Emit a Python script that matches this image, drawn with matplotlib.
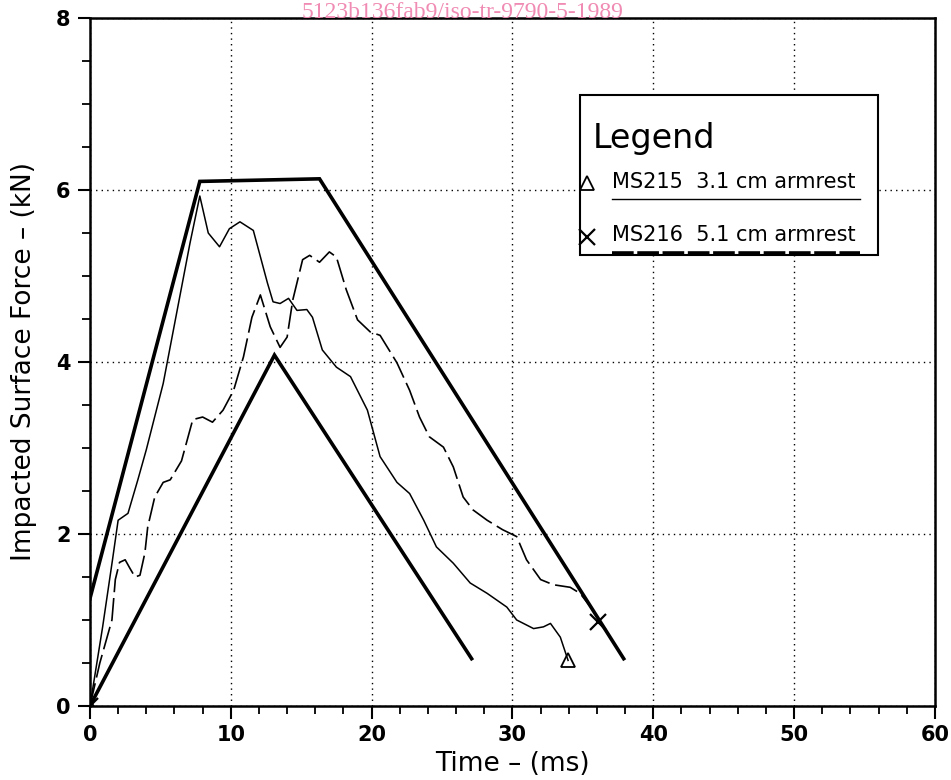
import numpy as np
import matplotlib
matplotlib.use("Agg")
import matplotlib.pyplot as plt
from matplotlib.patches import Rectangle

# corridor bounds (thick lines)
upper_t = [0.0, 7.8, 16.3, 37.9]
upper_f = [1.25, 6.1, 6.13, 0.55]
lower_t = [0.0, 13.1, 27.1]
lower_f = [0.0, 4.08, 0.55]

# MS215 3.1 cm armrest (thin solid)
ms215_t = [0.0, 0.9, 1.6, 2.0, 2.7, 3.4, 4.0, 5.2, 7.1, 7.8, 8.4, 9.2, 9.9, 10.65,
           11.6, 12.6, 13.0, 13.5, 14.1, 14.7, 15.4, 15.8, 16.5, 17.5, 18.5, 19.7,
           20.6, 21.8, 22.7, 23.7, 24.6, 25.8, 27.0, 28.2, 29.6, 30.3, 31.5, 32.2,
           32.7, 33.4, 33.95]
ms215_f = [0.0, 0.92, 1.7, 2.16, 2.24, 2.63, 2.98, 3.75, 5.38, 5.93, 5.5, 5.34, 5.55, 5.63,
           5.53, 4.92, 4.70, 4.68, 4.74, 4.60, 4.61, 4.52, 4.14, 3.94, 3.83, 3.44,
           2.9, 2.6, 2.47, 2.16, 1.85, 1.66, 1.43, 1.31, 1.15, 1.0, 0.9, 0.92,
           0.96, 0.8, 0.53]

# MS216 5.1 cm armrest (dashed)
ms216_t = [0.0, 0.7, 1.56, 1.8, 2.1, 2.5, 2.84, 3.2, 3.55, 3.9, 4.1, 4.6, 5.2, 5.7,
           6.5, 7.3, 8.0, 8.7, 9.45, 10.2, 10.9, 11.5, 12.1, 12.8, 13.5, 14.0, 14.4,
           15.1, 15.6, 16.3, 17.0, 17.5, 18.2, 19.0, 19.9, 20.6, 21.8, 22.7, 23.4,
           24.1, 25.1, 25.8, 26.5, 27.2, 28.2, 29.3, 30.3, 31.0, 32.0, 32.9, 34.1,
           34.8, 35.7, 36.1]
ms216_f = [0.0, 0.5, 1.0, 1.47, 1.67, 1.7, 1.6, 1.5, 1.52, 1.78, 2.08, 2.43, 2.6, 2.63,
           2.85, 3.33, 3.36, 3.30, 3.44, 3.67, 4.06, 4.52, 4.78, 4.41, 4.17, 4.29, 4.72,
           5.19, 5.24, 5.16, 5.28, 5.22, 4.84, 4.49, 4.35, 4.31, 3.99, 3.67, 3.36,
           3.13, 3.01, 2.78, 2.43, 2.28, 2.16, 2.05, 1.97, 1.70, 1.47, 1.41, 1.38,
           1.31, 1.12, 0.98]

labels = ["MS215  3.1 cm armrest", "MS216  5.1 cm armrest"]

fig = plt.figure(figsize=(9.51, 7.80), dpi=100)
ax = fig.add_axes([0.0946, 0.0949, 0.8885, 0.882])

ax.plot(upper_t, upper_f, color='black', lw=2.6, solid_joinstyle='miter', zorder=3)
ax.plot(lower_t, lower_f, color='black', lw=2.6, solid_joinstyle='miter', zorder=3)
ax.plot(ms215_t, ms215_f, color='black', lw=1.1, marker='^', markevery=[0, -1],
        ms=10, mfc='none', mew=1.3, zorder=4)
ax.plot(ms216_t, ms216_f, color='black', lw=1.2, dashes=(14, 3.5), marker='x',
        markevery=[0, -1], ms=12, mew=1.6, zorder=4)

ax.set_xlim(0, 60)
ax.set_ylim(0, 8)
ax.set_xticks(np.arange(0, 61, 10))
ax.set_yticks(np.arange(0, 9, 2))
ax.set_xticks(np.arange(0, 61, 2), minor=True)
ax.set_yticks(np.arange(0, 8.01, 0.5), minor=True)
ax.tick_params(which='major', direction='out', length=9, width=1.5, labelsize=15, pad=5)
ax.tick_params(which='minor', direction='out', length=6, width=1.3)
for lab in ax.get_xticklabels() + ax.get_yticklabels():
    lab.set_fontweight('bold')

ax.grid(True, which='major', color='black', lw=1.0, linestyle=(0, (1, 3)))
for s in ax.spines.values():
    s.set_linewidth(1.8)

ax.set_xlabel("Time \u2013 (ms)", fontsize=19, labelpad=4)
ax.set_ylabel("Impacted Surface Force \u2013 (kN)", fontsize=19, labelpad=14)

# hand drawn legend box
ax.add_patch(Rectangle((0.580, 0.656), 0.353, 0.232, transform=ax.transAxes,
                       fill=True, facecolor='white', edgecolor='black', lw=1.5, zorder=5))
ax.text(0.595, 0.825, "Legend", transform=ax.transAxes, fontsize=24,
        va='center', ha='left', zorder=6)
ax.plot([0.588], [0.760], transform=ax.transAxes, marker='^', ms=10, mfc='none',
        mec='black', mew=1.3, zorder=6, clip_on=False)
ax.text(0.618, 0.762, labels[0], transform=ax.transAxes, fontsize=15,
        va='center', ha='left', zorder=6)
ax.plot([0.618, 0.911], [0.737, 0.737], transform=ax.transAxes, color='black',
        lw=1.0, zorder=6)
ax.plot([0.588], [0.682], transform=ax.transAxes, marker='x', ms=12,
        mec='black', mew=1.6, zorder=6, clip_on=False)
ax.text(0.618, 0.684, labels[1], transform=ax.transAxes, fontsize=15,
        va='center', ha='left', zorder=6)
ax.plot([0.618, 0.911], [0.659, 0.659], transform=ax.transAxes, color='black',
        lw=2.6, dashes=(6, 1), zorder=6)

fig.text(0.486, 0.984, "5123b136fab9/iso-tr-9790-5-1989", fontsize=17,
         family='Liberation Serif', color='#f08cb4', ha='center', va='center')

fig.savefig("out.png", dpi=100)
